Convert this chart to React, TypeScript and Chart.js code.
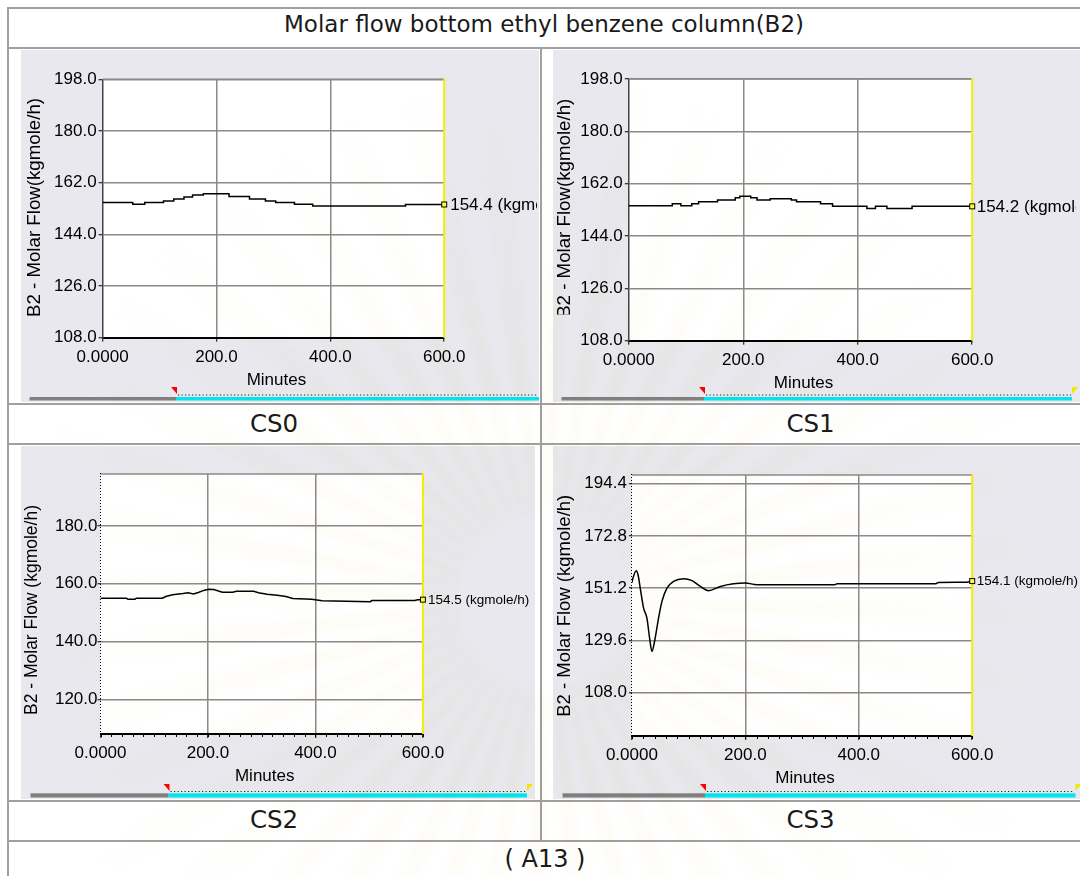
import React, { useEffect, useRef } from 'react';
import { Chart, registerables } from 'chart.js';

Chart.register(...registerables);

// Time axis shared by the four strip charts
const X_TICKS = [0, 200, 400, 600];
const X_TICK_LABELS = ['0.0000', '200.0', '400.0', '600.0'];
const X_MINOR_STEP = 20;

// CS0 – bottom molar flow (historian steps)
const CS0_MINUTES = [0, 53, 74, 107, 125, 143, 158, 177, 222, 258, 286, 304, 337, 369, 532, 600];
const CS0_FLOW = [155.1, 154.5, 155.1, 155.65, 156.35, 157.0, 157.7, 158.1, 157.15, 156.35, 155.65, 155.1, 154.5, 153.9, 154.4, 154.4];

// CS1 – bottom molar flow (historian steps)
const CS1_MINUTES = [0, 76, 91, 110, 122, 155, 186, 194, 213, 224, 247, 284, 293, 335, 356, 416, 431, 451, 495, 600];
const CS1_FLOW = [154.4, 155.1, 154.4, 155.1, 155.8, 156.35, 157.15, 157.7, 157.15, 156.35, 156.8, 156.35, 155.8, 155.1, 154.2, 153.5, 154.2, 153.5, 154.2, 154.2];

// CS2 – bottom molar flow
const CS2_MINUTES = [0, 48, 51, 64, 67, 115, 121.5, 134, 153.5, 163, 173, 182, 192, 201.5, 211, 221, 227, 246, 253, 285, 294, 310, 329, 345, 358, 393, 412.6, 502, 505, 585, 590, 600];
const CS2_FLOW = [155.0, 155.0, 154.65, 154.65, 155.0, 155.0, 155.6, 156.2, 156.6, 156.9, 156.5, 157.0, 157.7, 158.1, 158.0, 157.4, 157.1, 157.1, 157.4, 157.4, 156.9, 156.4, 156.0, 155.6, 154.9, 154.65, 154.1, 153.8, 154.2, 154.2, 154.5, 154.5];

// CS3 – bottom molar flow (disturbance response)
const CS3_MINUTES = [0, 1.8, 7.6, 11, 14.7, 20.6, 26.5, 31.2, 35.3, 40, 47, 53, 61.8, 73.5, 91, 106, 120.6, 135, 156, 179, 200, 220.6, 256, 358, 362, 536, 540, 590, 600];
const CS3_FLOW = [153.5, 155.3, 158.4, 156.5, 151.2, 142.9, 138.8, 130.5, 125.0, 129.2, 138.8, 145.7, 151.2, 154.0, 155.1, 154.3, 151.9, 150.1, 151.9, 153.0, 153.3, 152.6, 152.6, 152.6, 153.0, 153.0, 153.5, 153.6, 154.1];

// Flow axis ticks
const Y_TICKS_CS01 = [108, 126, 144, 162, 180, 198];
const Y_TICK_LABELS_CS01 = ['108.0', '126.0', '144.0', '162.0', '180.0', '198.0'];
const Y_TICKS_CS2 = [120, 140, 160, 180];
const Y_TICK_LABELS_CS2 = ['120.0', '140.0', '160.0', '180.0'];
const Y_TICKS_CS3 = [108, 129.6, 151.2, 172.8, 194.4];
const Y_TICK_LABELS_CS3 = ['108.0', '129.6', '151.2', '172.8', '194.4'];

const CASE_NAMES = ['CS0', 'CS1', 'CS2', 'CS3'];
const FLOW_UNIT = 'kgmole/h';

const FONT = '"Liberation Sans", Arial, Helvetica, sans-serif';
const DOC_FONT = '"DejaVu Sans", "Liberation Sans", sans-serif';

type Rect = { left: number; top: number; right: number; bottom: number };

interface Scroll {
  y: number;
  h: number;
  grayFrom: number;
  split: number;
  cyanTo: number;
  dotY: number;
  markerTop: number;
  yellow: boolean;
}

interface Panel {
  minutes: number[];
  flow: number[];
  stepped: boolean;
  smooth: boolean;
  yMin: number;
  yMax: number;
  yTicks: number[];
  yTickLabels: string[];
  box: Rect;
  plot: Rect;
  yTitle: string;
  yTitleFont: number;
  yTitleX: number;
  yTitleY: number;
  yTitleClipBottom?: number;
  endFont: number;
  endGap: number;
  endClipRight: number;
  dottedAxis: boolean;
  tickPad: number;
  scroll: Scroll;
}

const PANELS: Panel[] = [
  {
    minutes: CS0_MINUTES, flow: CS0_FLOW, stepped: true, smooth: false,
    yMin: 108, yMax: 198, yTicks: Y_TICKS_CS01, yTickLabels: Y_TICK_LABELS_CS01,
    box: { left: 21, top: 50, right: 539, bottom: 402 },
    plot: { left: 102.6, top: 79.3, right: 444.2, bottom: 337.7 },
    yTitle: 'B2 - Molar Flow(kgmole/h)', yTitleFont: 18.7, yTitleX: 34.8, yTitleY: 207.5,
    endFont: 17, endGap: 6, endClipRight: 537,
    dottedAxis: false, tickPad: 2,
    scroll: { y: 397, h: 3.5, grayFrom: 29.5, split: 176, cyanTo: 539, dotY: 395, markerTop: 387, yellow: false },
  },
  {
    minutes: CS1_MINUTES, flow: CS1_FLOW, stepped: true, smooth: false,
    yMin: 108, yMax: 198, yTicks: Y_TICKS_CS01, yTickLabels: Y_TICK_LABELS_CS01,
    box: { left: 553, top: 50, right: 1080, bottom: 402 },
    plot: { left: 628.8, top: 79, right: 972.2, bottom: 340.7 },
    yTitle: 'B2 - Molar Flow(kgmole/h)', yTitleFont: 18.7, yTitleX: 565, yTitleY: 208.3, yTitleClipBottom: 314.5,
    endFont: 17, endGap: 4.5, endClipRight: 1076,
    dottedAxis: false, tickPad: 2,
    scroll: { y: 397, h: 3.5, grayFrom: 561.5, split: 704, cyanTo: 1072, dotY: 395, markerTop: 387, yellow: true },
  },
  {
    minutes: CS2_MINUTES, flow: CS2_FLOW, stepped: false, smooth: false,
    yMin: 108, yMax: 198, yTicks: Y_TICKS_CS2, yTickLabels: Y_TICK_LABELS_CS2,
    box: { left: 21, top: 446, right: 535, bottom: 799 },
    plot: { left: 100.5, top: 474, right: 422.9, bottom: 734 },
    yTitle: 'B2 - Molar Flow (kgmole/h)', yTitleFont: 17.5, yTitleX: 31.9, yTitleY: 610,
    endFont: 13.5, endGap: 5, endClipRight: 535,
    dottedAxis: true, tickPad: 0,
    scroll: { y: 793.3, h: 4.2, grayFrom: 30.5, split: 168.5, cyanTo: 527, dotY: 791.5, markerTop: 784, yellow: true },
  },
  {
    minutes: CS3_MINUTES, flow: CS3_FLOW, stepped: false, smooth: true,
    yMin: 90, yMax: 198, yTicks: Y_TICKS_CS3, yTickLabels: Y_TICK_LABELS_CS3,
    box: { left: 553, top: 446, right: 1080, bottom: 799 },
    plot: { left: 631.9, top: 475, right: 972.2, bottom: 736 },
    yTitle: 'B2 - Molar Flow (kgmole/h)', yTitleFont: 18.5, yTitleX: 565, yTitleY: 605.8,
    endFont: 13.5, endGap: 4.5, endClipRight: 1080,
    dottedAxis: true, tickPad: 2,
    scroll: { y: 793.3, h: 4.2, grayFrom: 562.5, split: 705, cyanTo: 1075.5, dotY: 791.5, markerTop: 784, yellow: true },
  },
];

const Y_AXIS_W = 60;
const X_AXIS_H = 50;
const GRID = '#8a8a8a';

function makeStripPlugin(p: Panel) {
  const ox = p.box.left;
  const oy = p.box.top;
  return {
    id: 'stripDecor',
    beforeDraw(chart: any) {
      const { ctx, chartArea: a } = chart;
      ctx.save();
      ctx.fillStyle = '#ffffff';
      ctx.fillRect(a.left, a.top, a.right - a.left, a.bottom - a.top);
      ctx.restore();
    },
    afterDraw(chart: any) {
      const { ctx, chartArea: a, scales } = chart;
      const xs = scales.x;
      const ys = scales.y;
      ctx.save();

      // top frame line
      ctx.strokeStyle = GRID;
      ctx.lineWidth = 1.5;
      ctx.beginPath();
      ctx.moveTo(a.left, a.top);
      ctx.lineTo(a.right, a.top);
      ctx.stroke();

      // yellow time cursor at the right edge
      ctx.strokeStyle = '#f2f000';
      ctx.lineWidth = 2;
      ctx.beginPath();
      ctx.moveTo(a.right, a.top - 1);
      ctx.lineTo(a.right, a.bottom);
      ctx.stroke();

      if (p.dottedAxis) {
        // dotted flow axis (minor divisions)
        const lx = Math.round(a.left) - 0.5;
        ctx.strokeStyle = '#000';
        ctx.lineWidth = 1;
        ctx.setLineDash([1, 2]);
        ctx.beginPath();
        ctx.moveTo(lx, a.top - 1);
        ctx.lineTo(lx, a.bottom);
        ctx.stroke();
        ctx.setLineDash([]);

        // minor ticks on the time axis
        for (let m = 0; m <= 600; m += X_MINOR_STEP) {
          const x = Math.round(xs.getPixelForValue(m)) + 0.5;
          ctx.beginPath();
          ctx.moveTo(x, a.bottom);
          ctx.lineTo(x, a.bottom + 3);
          ctx.stroke();
        }
      }

      // last value marker and readout
      const last = p.flow[p.flow.length - 1];
      const lastMin = p.minutes[p.minutes.length - 1];
      const mx = xs.getPixelForValue(lastMin);
      const my = ys.getPixelForValue(last);
      ctx.fillStyle = '#ffff40';
      ctx.fillRect(mx - 2.5, my - 2.5, 5, 5);
      ctx.strokeStyle = '#000';
      ctx.lineWidth = 1;
      ctx.strokeRect(mx - 2.5, my - 2.5, 5, 5);

      ctx.save();
      ctx.beginPath();
      ctx.rect(0, 0, p.endClipRight - ox, chart.height);
      ctx.clip();
      ctx.fillStyle = '#000';
      ctx.font = `${p.endFont}px ${FONT}`;
      ctx.textAlign = 'left';
      ctx.textBaseline = 'middle';
      ctx.fillText(`${last.toFixed(1)} (${FLOW_UNIT})`, mx + p.endGap, my + 0.5);
      ctx.restore();

      // vertical axis title
      ctx.save();
      if (p.yTitleClipBottom !== undefined) {
        ctx.beginPath();
        ctx.rect(0, 0, chart.width, p.yTitleClipBottom - oy);
        ctx.clip();
      }
      ctx.translate(p.yTitleX - ox, p.yTitleY - oy);
      ctx.rotate(-Math.PI / 2);
      ctx.fillStyle = '#000';
      ctx.font = `${p.yTitleFont}px ${FONT}`;
      ctx.textAlign = 'center';
      ctx.textBaseline = 'middle';
      ctx.fillText(p.yTitle, 0, 0);
      ctx.restore();

      // horizontal axis title
      ctx.fillStyle = '#000';
      ctx.font = `17px ${FONT}`;
      ctx.textAlign = 'center';
      ctx.textBaseline = 'alphabetic';
      ctx.fillText('Minutes', (a.left + a.right) / 2 + 3, a.bottom + 47);

      // time-window scroll bar under the chart
      const s = p.scroll;
      ctx.fillStyle = '#808080';
      ctx.fillRect(s.grayFrom - ox, s.y - oy, s.split - s.grayFrom, s.h);
      ctx.fillStyle = '#00e6f0';
      ctx.fillRect(s.split - ox, s.y - oy, s.cyanTo - s.split, s.h);
      ctx.strokeStyle = '#202020';
      ctx.lineWidth = 1;
      ctx.setLineDash([1.2, 2.3]);
      ctx.beginPath();
      ctx.moveTo(s.split + 2 - ox, s.dotY - oy);
      ctx.lineTo(s.cyanTo - 1 - ox, s.dotY - oy);
      ctx.stroke();
      ctx.setLineDash([]);

      ctx.fillStyle = '#ff0000';
      ctx.beginPath();
      ctx.moveTo(s.split - 5 - ox, s.markerTop - oy);
      ctx.lineTo(s.split + 1 - ox, s.markerTop - oy);
      ctx.lineTo(s.split + 1 - ox, s.markerTop + 7 - oy);
      ctx.closePath();
      ctx.fill();

      if (s.yellow) {
        ctx.fillStyle = '#f4e800';
        ctx.beginPath();
        ctx.moveTo(s.cyanTo - ox, s.markerTop - oy);
        ctx.lineTo(s.cyanTo + 6 - ox, s.markerTop - oy);
        ctx.lineTo(s.cyanTo - ox, s.markerTop + 7 - oy);
        ctx.closePath();
        ctx.fill();
      }

      ctx.restore();
    },
  };
}

function buildConfig(p: Panel): any {
  const padding = {
    left: p.plot.left - p.box.left - Y_AXIS_W,
    top: p.plot.top - p.box.top,
    right: p.box.right - p.plot.right,
    bottom: p.box.bottom - p.plot.bottom - X_AXIS_H,
  };
  const tickFont = { family: FONT, size: 17 };
  return {
    type: 'line',
    data: {
      datasets: [
        {
          data: p.minutes.map((m, i) => ({ x: m, y: p.flow[i] })),
          borderColor: '#000000',
          borderWidth: 1.5,
          pointRadius: 0,
          fill: false,
          stepped: p.stepped ? 'before' : false,
          cubicInterpolationMode: p.smooth ? 'monotone' : 'default',
          tension: 0,
        },
      ],
    },
    options: {
      animation: false,
      responsive: false,
      maintainAspectRatio: false,
      devicePixelRatio: 1,
      events: [],
      layout: { padding },
      plugins: { legend: { display: false }, tooltip: { enabled: false }, title: { display: false } },
      scales: {
        x: {
          type: 'linear',
          min: 0,
          max: 600,
          afterBuildTicks: (s: any) => {
            s.ticks = X_TICKS.map((v) => ({ value: v }));
          },
          afterFit: (s: any) => {
            s.height = X_AXIS_H;
          },
          ticks: {
            font: tickFont,
            color: '#000',
            padding: 5,
            maxRotation: 0,
            autoSkip: false,
            callback: (v: number) => X_TICK_LABELS[X_TICKS.indexOf(v)] ?? '',
          },
          grid: {
            color: (c: any) => (c.tick && (c.tick.value === 0 || c.tick.value === 600) ? 'rgba(0,0,0,0)' : GRID),
            lineWidth: 1.5,
            tickLength: 4,
            tickColor: '#000',
            tickWidth: 1,
          },
          border: { display: true, color: '#000', width: 2 },
        },
        y: {
          type: 'linear',
          min: p.yMin,
          max: p.yMax,
          afterBuildTicks: (s: any) => {
            s.ticks = p.yTicks.map((v) => ({ value: v }));
          },
          afterFit: (s: any) => {
            s.width = Y_AXIS_W;
          },
          ticks: {
            font: tickFont,
            color: '#000',
            padding: p.tickPad,
            autoSkip: false,
            callback: (v: number) => p.yTickLabels[p.yTicks.indexOf(v)] ?? '',
          },
          grid: {
            color: (c: any) => (c.tick && c.tick.value === p.yMin ? 'rgba(0,0,0,0)' : GRID),
            lineWidth: 1.5,
            tickLength: p.dottedAxis ? 3 : 4,
            tickColor: '#000',
            tickWidth: 1,
          },
          border: p.dottedAxis ? { display: false } : { display: true, color: '#444', width: 1.5 },
        },
      },
    },
    plugins: [makeStripPlugin(p)],
  };
}

function StripChart({ panel }: { panel: Panel }) {
  const ref = useRef<HTMLCanvasElement>(null);
  const w = panel.box.right - panel.box.left;
  const h = panel.box.bottom - panel.box.top;
  useEffect(() => {
    if (!ref.current) return;
    const chart = new Chart(ref.current, buildConfig(panel));
    return () => chart.destroy();
  }, [panel]);
  return (
    <canvas
      ref={ref}
      width={w}
      height={h}
      style={{ position: 'absolute', left: panel.box.left, top: panel.box.top, width: w, height: h, background: '#e8e8ee' }}
    />
  );
}

// Faint university seal printed behind the page
function Watermark() {
  const ref = useRef<HTMLCanvasElement>(null);
  useEffect(() => {
    const c = ref.current;
    if (!c) return;
    const ctx = c.getContext('2d');
    if (!ctx) return;
    const cx = 545;
    const cy = 600;
    ctx.clearRect(0, 0, c.width, c.height);
    const grad = ctx.createRadialGradient(cx, cy, 90, cx, cy, 520);
    grad.addColorStop(0, 'rgba(238, 224, 170, 0.16)');
    grad.addColorStop(0.5, 'rgba(240, 230, 185, 0.10)');
    grad.addColorStop(1, 'rgba(240, 232, 195, 0)');
    ctx.fillStyle = grad;
    const rays = 44;
    for (let i = 0; i < rays; i++) {
      const a0 = (i / rays) * Math.PI * 2;
      const a1 = a0 + ((Math.PI * 2) / rays) * 0.45;
      ctx.beginPath();
      ctx.moveTo(cx + Math.cos(a0) * 90, cy + Math.sin(a0) * 90);
      ctx.lineTo(cx + Math.cos(a0) * 560, cy + Math.sin(a0) * 560);
      ctx.lineTo(cx + Math.cos(a1) * 560, cy + Math.sin(a1) * 560);
      ctx.lineTo(cx + Math.cos(a1) * 90, cy + Math.sin(a1) * 90);
      ctx.closePath();
      ctx.fill();
    }
  }, []);
  return (
    <canvas
      ref={ref}
      width={1080}
      height={876}
      style={{
        position: 'absolute',
        left: 0,
        top: 0,
        width: 1080,
        height: 876,
        pointerEvents: 'none',
        mixBlendMode: 'multiply',
        filter: 'blur(4px)',
      }}
    />
  );
}

const LINE = '#a0a0a0';

function HLine({ y, x1, x2 }: { y: number; x1: number; x2: number }) {
  return <div style={{ position: 'absolute', left: x1, top: y, width: x2 - x1, height: 2, background: LINE }} />;
}
function VLine({ x, y1, y2 }: { x: number; y1: number; y2: number }) {
  return <div style={{ position: 'absolute', left: x, top: y1, width: 2, height: y2 - y1, background: LINE }} />;
}

function CellText({ text, cx, top, size }: { text: string; cx: number; top: number; size: number }) {
  return (
    <div
      style={{
        position: 'absolute',
        left: cx - 300,
        width: 600,
        top,
        textAlign: 'center',
        fontFamily: DOC_FONT,
        fontSize: size,
        lineHeight: 'normal',
        color: '#1a1a1a',
        whiteSpace: 'nowrap',
      }}
    >
      {text}
    </div>
  );
}

export default function App() {
  return (
    <div style={{ position: 'absolute', left: 0, top: 0, width: 1080, height: 876, overflow: 'hidden', background: '#fff' }}>
      <HLine y={7} x1={7} x2={1080} />
      <HLine y={47} x1={7} x2={1080} />
      <HLine y={403} x1={7} x2={1080} />
      <HLine y={443} x1={7} x2={1080} />
      <HLine y={800} x1={7} x2={1080} />
      <HLine y={840} x1={7} x2={1080} />
      <VLine x={6.5} y1={7} y2={876} />
      <VLine x={539.5} y1={47} y2={842} />

      <CellText text="Molar flow bottom ethyl benzene column(B2)" cx={544} top={11.4} size={23} />

      {PANELS.map((p, i) => (
        <StripChart key={i} panel={p} />
      ))}

      <CellText text={CASE_NAMES[0]} cx={274} top={409} size={24.5} />
      <CellText text={CASE_NAMES[1]} cx={810.5} top={409} size={24.5} />
      <CellText text={CASE_NAMES[2]} cx={274} top={804.6} size={24.5} />
      <CellText text={CASE_NAMES[3]} cx={810.5} top={804.6} size={24.5} />
      <CellText text="( A13 )" cx={545} top={845} size={24} />

      <Watermark />
    </div>
  );
}
